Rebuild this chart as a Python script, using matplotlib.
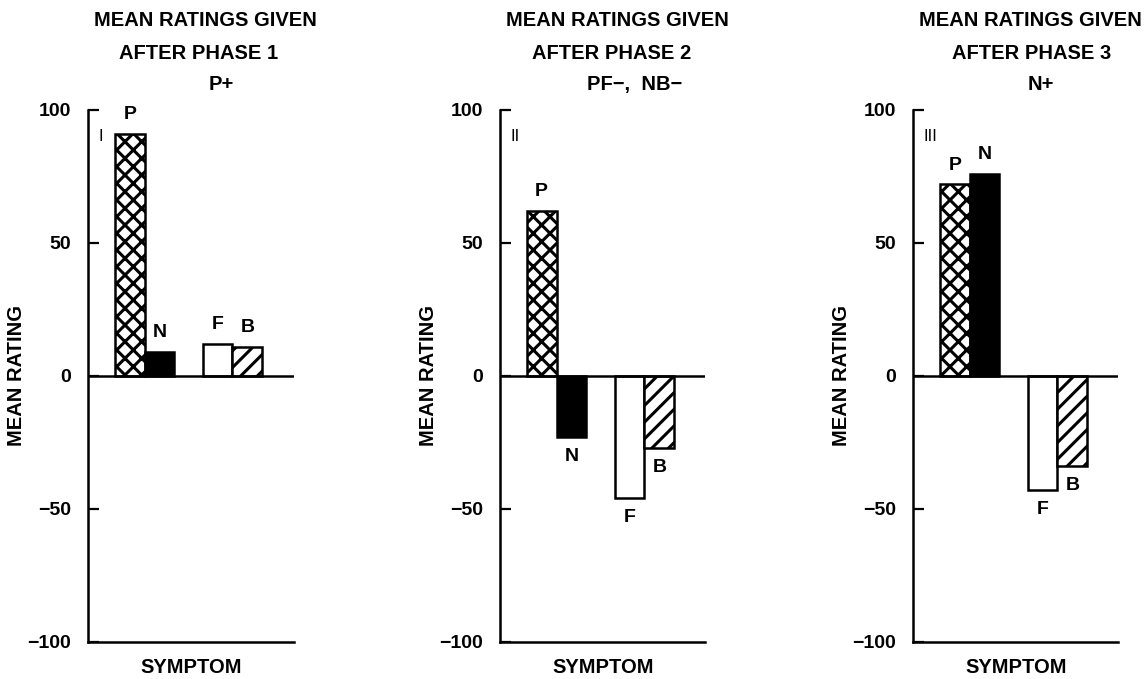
import matplotlib.pyplot as plt

plt.rcParams['font.family'] = ['Liberation Sans', 'DejaVu Sans']
plt.rcParams['font.weight'] = 'bold'
plt.rcParams['axes.labelweight'] = 'bold'
plt.rcParams['hatch.linewidth'] = 2.2

# data
symptoms = ['P', 'N', 'F', 'B']
phase_titles = ['AFTER PHASE 1', 'AFTER PHASE 2', 'AFTER PHASE 3']
phase_notes = ['P+', 'PF\u2212,  NB\u2212', 'N+']
numerals = ['I', 'II', 'III']
ratings_phase1 = [91, 9, 12, 11]
ratings_phase2 = [62, -23, -46, -27]
ratings_phase3 = [72, 76, -43, -34]
all_ratings = [ratings_phase1, ratings_phase2, ratings_phase3]

fills = ['white', 'black', 'white', 'white']
hatches = ['xx', None, None, '//']
bar_left = [0.9, 1.9, 3.85, 4.85]

fig = plt.figure(figsize=(11.48, 6.79), dpi=100)

ax_left = [0.0767, 0.4355, 0.7953]
note_x = [0.65, 0.655, 0.62]
line2_x = [0.54, 0.545, 0.575]

for i in range(3):
    ax = fig.add_axes([ax_left[i], 0.0545, 0.179, 0.7835])
    vals = all_ratings[i]
    for j in range(4):
        ax.bar(bar_left[j], vals[j], width=1.0, align='edge',
               color=fills[j], edgecolor='black', linewidth=1.8,
               hatch=hatches[j], zorder=2)
        if vals[j] >= 0:
            off = 14
        else:
            off = -14
        ax.annotate(symptoms[j], (bar_left[j] + 0.5, vals[j]),
                    xytext=(0, off), textcoords='offset points',
                    ha='center', va='center', fontsize=14)

    ax.axhline(0, color='black', linewidth=1.8, zorder=3)
    ax.set_xlim(0, 6.9)
    ax.set_ylim(-100, 100)
    ax.set_yticks([-100, -50, 0, 50, 100])
    ax.set_xticks([])
    ax.tick_params(axis='y', direction='in', length=8, width=1.6,
                   pad=12, labelsize=14)
    ax.spines['top'].set_visible(False)
    ax.spines['right'].set_visible(False)
    ax.spines['left'].set_linewidth(1.8)
    ax.spines['bottom'].set_linewidth(1.8)

    ax.set_ylabel('MEAN RATING', fontsize=14.5)
    ax.yaxis.set_label_coords(-0.30, 0.5)
    ax.set_xlabel('SYMPTOM', fontsize=14.5)
    ax.xaxis.set_label_coords(0.5, -0.03)

    ax.text(0.05, 0.951, numerals[i], transform=ax.transAxes,
            ha='left', va='center', fontsize=12, fontweight='normal')
    ax.text(0.57, 1.169, 'MEAN RATINGS GIVEN', transform=ax.transAxes,
            ha='center', va='center', fontsize=14.5)
    ax.text(line2_x[i], 1.107, phase_titles[i], transform=ax.transAxes,
            ha='center', va='center', fontsize=14.5)
    ax.text(note_x[i], 1.047, phase_notes[i], transform=ax.transAxes,
            ha='center', va='center', fontsize=14.5)

plt.savefig('out.png', dpi=100)
